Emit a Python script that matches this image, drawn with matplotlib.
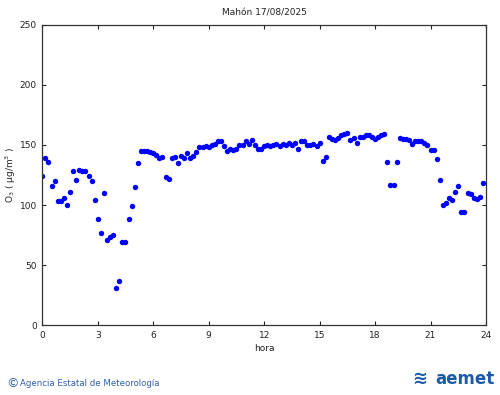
#!/usr/bin/env python3
import numpy as np
import matplotlib
matplotlib.use('Agg')
import matplotlib.pyplot as plt

# Datos de ozono cada 10 minutos (µg/m3), Mahón 17/08/2025
o3 = [124, 139, 136, 116, 120, 103, 103, 106, 100, 111,
      128, 121, 129, 128, 128, 124, 120, 104, 88, 77,
      110, 71, 73, 75, 31, 37, 69, 69, 88, 99,
      115, 135, 145, 145, 145, 144, 143, 142, 139, 140,
      123, 122, 139, 140, 135, 141, 139, 143, 139, 141,
      144, 148, 148, 149, 148, 150, 151, 153, 153, 149,
      145, 147, 146, 147, 150, 150, 153, 151, 154, 150,
      147, 147, 149, 150, 149, 150, 151, 149, 151, 150,
      152, 150, 152, 147, 153, 153, 150, 150, 151, 149,
      152, 137, 140, 157, 155, 154, 156, 158, 159, 160,
      154, 156, 152, 157, 157, 158, 158, 157, 155, 157,
      158, 159, 136, 117, 117, 136, 156, 155, 155, 154,
      151, 153, 153, 153, 152, 150, 146, 146, 138, 121,
      100, 102, 106, 104, 111, 116, 94, 94, 110, 109,
      106, 105, 107, 118]
horas = np.arange(len(o3)) / 6.0  # una medida cada 10 minutos

xticks = [0, 3, 6, 9, 12, 15, 18, 21, 24]
yticks = [0, 50, 100, 150, 200, 250]

fig = plt.figure(figsize=(5.0, 3.95), dpi=100)
ax = fig.add_axes([0.0846, 0.177, 0.8874, 0.76])

ax.plot(horas, o3, 'o', color='#0000ff', markersize=3.9, markeredgewidth=0)

ax.set_xlim(0, 24)
ax.set_ylim(0, 250)
ax.set_xticks(xticks)
ax.set_yticks(yticks)
ax.tick_params(direction='in', top=True, right=True, length=3, width=0.8,
               labelsize=6.5, colors='#222222', pad=4)
for s in ax.spines.values():
    s.set_linewidth(0.9)
    s.set_color('#333333')

ax.set_title('Mahón 17/08/2025', fontsize=6.5, pad=7, color='#222222')
ax.set_xlabel('hora', fontsize=6.5, color='#222222', labelpad=3)
ax.set_ylabel('O$_3$ ( µg/m$^3$ )', fontsize=6.5, color='#222222', labelpad=1)

# Pie de página
fig.text(0.012, 0.03, '©', fontsize=9, color='#2f5fae', va='center')
fig.text(0.04, 0.03, 'Agencia Estatal de Meteorología', fontsize=6.2,
         color='#2f5fae', va='center')
fig.text(0.99, 0.04, 'aemet', fontsize=12, fontweight='bold',
         color='#1d5aa8', ha='right', va='center')
fig.text(0.84, 0.042, '≋', fontsize=13, fontweight='bold',
         color='#1d5aa8', ha='center', va='center')

plt.savefig('out.png', dpi=100)
plt.close()
